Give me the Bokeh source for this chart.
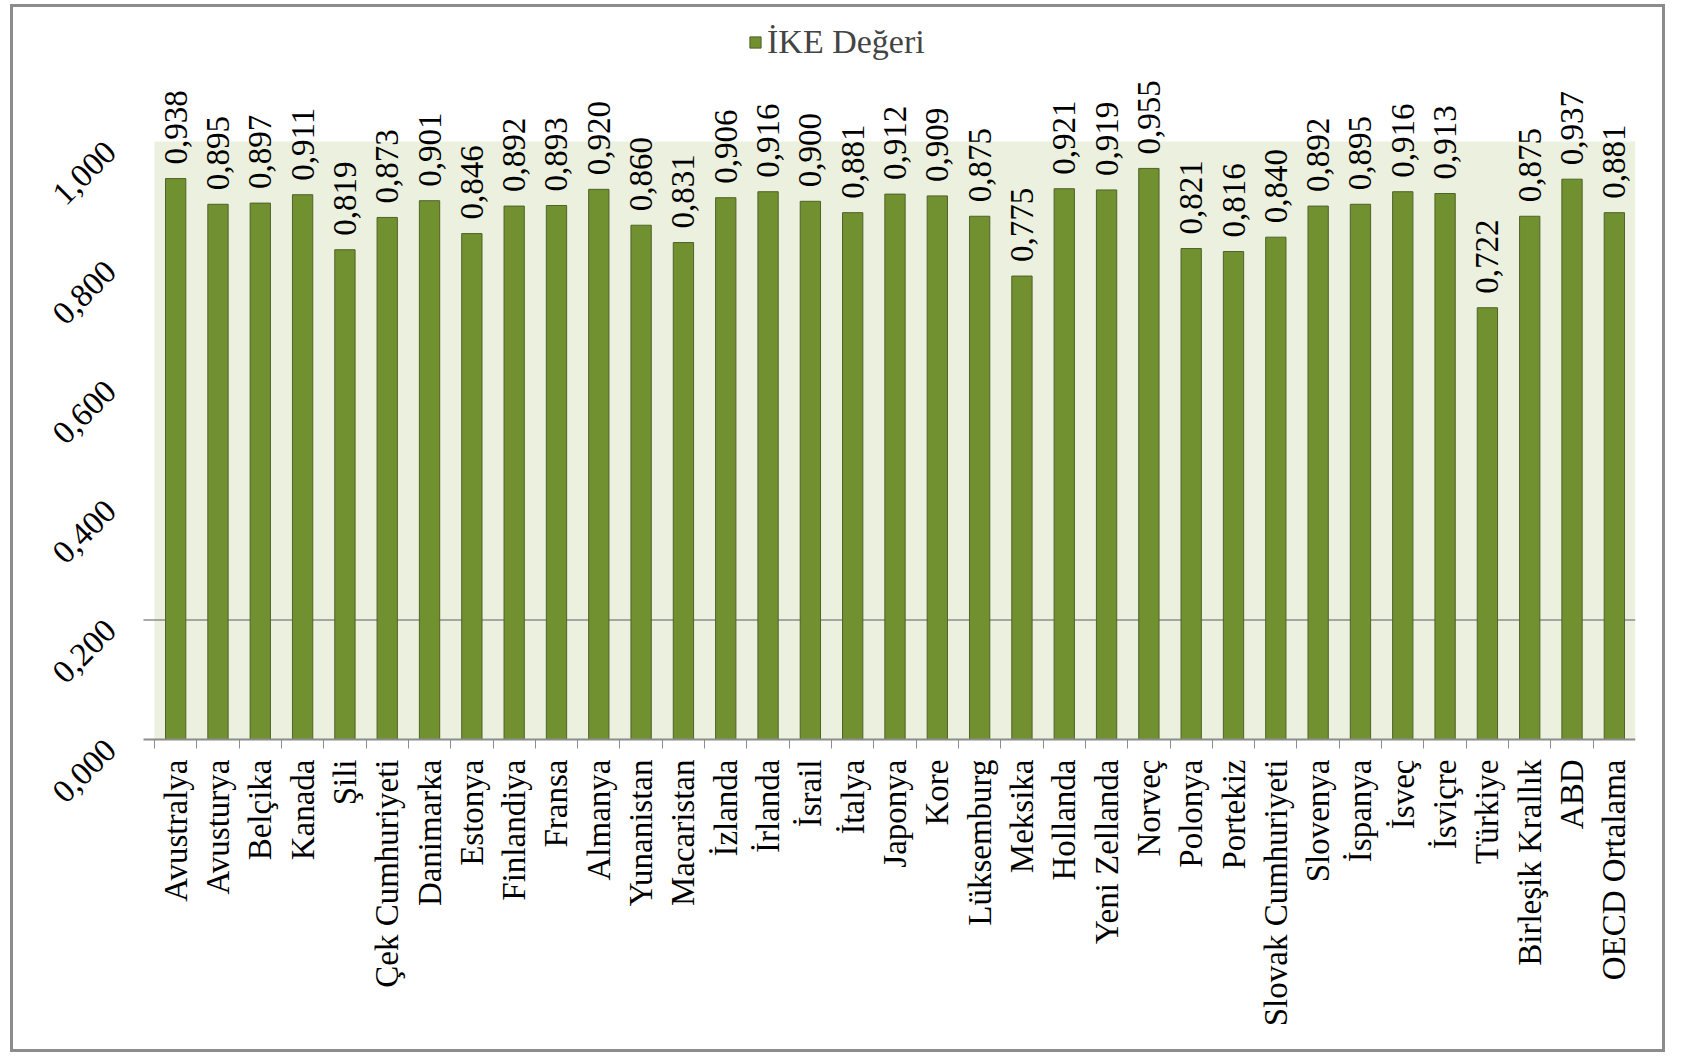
import math
from bokeh.plotting import figure
from bokeh.models import (Range1d, FixedTicker, Legend, LegendItem, ColumnDataSource,
                          BoxAnnotation, LabelSet)
from bokeh.core.properties import value
from bokeh.embed import file_html
from bokeh.resources import INLINE

countries = ["Avustralya", "Avusturya", "Belçika", "Kanada", "Şili", "Çek Cumhuriyeti",
             "Danimarka", "Estonya", "Finlandiya", "Fransa", "Almanya", "Yunanistan",
             "Macaristan", "İzlanda", "İrlanda", "İsrail", "İtalya", "Japonya", "Kore",
             "Lüksemburg", "Meksika", "Hollanda", "Yeni Zellanda", "Norveç", "Polonya",
             "Portekiz", "Slovak Cumhuriyeti", "Slovenya", "İspanya", "İsveç", "İsviçre",
             "Türkiye", "Birleşik Krallık", "ABD", "OECD Ortalama"]
ike_values = [0.938, 0.895, 0.897, 0.911, 0.819, 0.873, 0.901, 0.846, 0.892, 0.893,
              0.920, 0.860, 0.831, 0.906, 0.916, 0.900, 0.881, 0.912, 0.909, 0.875,
              0.775, 0.921, 0.919, 0.955, 0.821, 0.816, 0.840, 0.892, 0.895, 0.916,
              0.913, 0.722, 0.875, 0.937, 0.881]
y_ticks = [0.0, 0.2, 0.4, 0.6, 0.8, 1.0]
y_tick_labels = ["0,000", "0,200", "0,400", "0,600", "0,800", "1,000"]
grid_values = [0.2]
series_name = "İKE Değeri"

FONT = "Liberation Serif"
n = len(countries)
xs = list(range(n))
labels = [f"{v:.3f}".replace(".", ",") for v in ike_values]
src = ColumnDataSource(dict(x=xs, v=ike_values, lbl=labels))

# ---- layout in pixels (figure content is 1655 x 1048) ----
FIG_W, FIG_H = 1655, 1048
BORDER_R, BORDER_B = 33, 12
FRAME_W = FIG_W - BORDER_R
FRAME_H = FIG_H - BORDER_B
LEFT_PAD = 141            # space left of the category area, inside the frame
AREA_W = 1481             # width of the category area
UNIT_H = 598              # pixels for one unit of y
ZERO_FROM_TOP = 732       # y = 0 position, from top of frame
px_per_cat = AREA_W / n
x_start = -0.5 - LEFT_PAD / px_per_cat
x_end = x_start + FRAME_W / px_per_cat
y_end = ZERO_FROM_TOP / UNIT_H
y_start = -(FRAME_H - ZERO_FROM_TOP) / UNIT_H
line_ext = 11 / px_per_cat  # axis / grid line reach a little left of the area

p = figure(width=FIG_W, height=FIG_H, output_backend="svg", toolbar_location=None,
           x_range=Range1d(x_start, x_end), y_range=Range1d(y_start, y_end),
           y_axis_location=None,
           min_border_left=0, min_border_right=BORDER_R, min_border_top=0,
           min_border_bottom=BORDER_B)
p.styles = {"border": "3px solid #8c8c8c"}
p.margin = (4, 0, 0, 10)
p.background_fill_color = "white"
p.border_fill_color = "white"
p.outline_line_color = None
p.xgrid.visible = False
p.ygrid.visible = False

# green plot area 0..1
p.add_layout(BoxAnnotation(left=-0.5, right=n - 0.5, bottom=0, top=1.0,
                           fill_color="#ebf1de", fill_alpha=1.0,
                           line_color=None, level="image"))

# the single horizontal gridline
p.segment(x0=[-0.5 - line_ext] * len(grid_values), x1=[n - 0.5] * len(grid_values),
          y0=grid_values, y1=grid_values, line_color="#8c8c8c", line_width=1.5)

r = p.vbar(x="x", top="v", width=0.48, source=src, fill_color="#71902f",
           line_color="#4f6228", line_width=1)

p.text(x="x", y="v", text="lbl", source=src, angle=math.pi / 2, text_align="left",
       text_baseline="middle", y_offset=-14, text_font=value(FONT),
       text_font_size="33px", text_color="black")

# x axis: line at y = 0 with ticks between the categories
xa = p.xaxis[0]
xa.fixed_location = 0
xa.bounds = (-0.5 - line_ext, n - 0.5)
xa.ticker = FixedTicker(ticks=[], minor_ticks=[i - 0.5 for i in range(n + 1)])
xa.major_tick_line_color = None
xa.major_tick_out = 0
xa.major_tick_in = 0
xa.major_label_standoff = 0
xa.minor_tick_line_color = "#8c8c8c"
xa.minor_tick_out = 9
xa.minor_tick_in = 0
xa.axis_line_color = "#8c8c8c"
xa.axis_line_width = 2

# category labels, vertical, hanging below the axis
cat_src = ColumnDataSource(dict(x=xs, y=[0] * n, t=countries))
p.add_layout(LabelSet(x="x", y="y", text="t", source=cat_src, angle=math.pi / 2,
                      y_offset=-20, text_align="right", text_baseline="middle",
                      text_font=FONT, text_font_size="33px", text_color="black"))

# y tick labels, right-aligned at each tick and rotated 45 degrees
ylab_src = ColumnDataSource(dict(x=[-0.5] * len(y_ticks), y=y_ticks, t=y_tick_labels))
p.add_layout(LabelSet(x="x", y="y", text="t", source=ylab_src, angle=math.pi / 4,
                      x_offset=-44, y_offset=-5, text_align="right",
                      text_baseline="middle", text_font=FONT,
                      text_font_size="33px", text_color="black"))

legend = Legend(items=[LegendItem(label=series_name, renderers=[r])],
                location=(LEFT_PAD + 594, FRAME_H - 54), orientation="horizontal",
                label_text_font=FONT, label_text_font_size="34px",
                glyph_width=14, glyph_height=14, padding=2, margin=0,
                border_line_color=None, background_fill_alpha=0)
p.add_layout(legend, "center")

open("out.html", "w").write(file_html(p, INLINE))
